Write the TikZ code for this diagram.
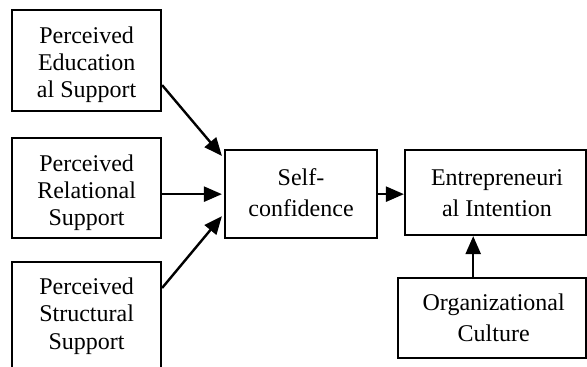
\documentclass[tikz,border=0pt]{standalone}
\usepackage{fontspec}
\setmainfont{Liberation Serif}
\usetikzlibrary{arrows.meta,calc}
\begin{document}
\begin{tikzpicture}[x=0.5pt,y=-0.5pt,
  box/.style={draw, line width=1.1pt, inner sep=0pt, rectangle},
  ltxt/.style={align=center, anchor=north, inner sep=0pt, font=\fontsize{12pt}{13.6pt}\selectfont},
  rtxt/.style={align=center, anchor=north, inner sep=0pt, font=\fontsize{12pt}{15.5pt}\selectfont},
  arr/.style={line width=1.2pt, -{Triangle[length=9pt,width=7.5pt]}}]
\useasboundingbox (0,0) rectangle (587,367);
\clip (0,0) rectangle (587,367);
% boxes
\node[box, minimum width=74.35pt, minimum height=50.5pt] (edu) at (86.65,60.5) {};
\node[box, minimum width=74.35pt, minimum height=50pt] (rel) at (86.65,187.7) {};
\node[box, minimum width=74.35pt, minimum height=55.15pt] (struct) at (86.65,316.85) {};
\node[box, minimum width=76.15pt, minimum height=44.15pt] (self) at (301.15,194.15) {};
\node[box, minimum width=90.5pt, minimum height=42.5pt] (entre) at (495.5,192.5) {};
\node[box, minimum width=93.85pt, minimum height=39.7pt] (org) at (492.15,318) {};
% texts
\node[ltxt] (edut) at (86.65,24.7) {\rule{0pt}{9pt}Perceived\\Education\\al Support};
\node[ltxt] (relt) at (86.65,152.7) {\rule{0pt}{9pt}Perceived\\Relational\\Support};
\node[ltxt] (structt) at (86.65,276.3) {\rule{0pt}{9pt}Perceived\\Structural\\Support};
\node[rtxt] (selft) at (301,167.5) {\rule{0pt}{9pt}Self-\\confidence};
\node[rtxt] (entret) at (497,167) {\rule{0pt}{9pt}Entrepreneuri\\al Intention};
\node[rtxt] (orgt) at (493.7,292) {\rule{0pt}{9pt}Organizational\\Culture};
% arrows
\draw[arr] ([yshift=13.5pt]edu.south east) -- ([xshift=-1pt,yshift=-3.5pt]self.north west);
\draw[arr] (rel.east |- self.west) -- ([xshift=-1pt]self.west);
\draw[arr] ([yshift=-13.7pt]struct.north east) -- ([xshift=-1pt,yshift=11.6pt]self.south west);
\draw[arr] (self.east) -- (self.east -| entre.west);
\draw[arr] ([xshift=38pt]org.north west) -- ([xshift=38pt]org.north west |- entre.south);
\end{tikzpicture}
\end{document}
